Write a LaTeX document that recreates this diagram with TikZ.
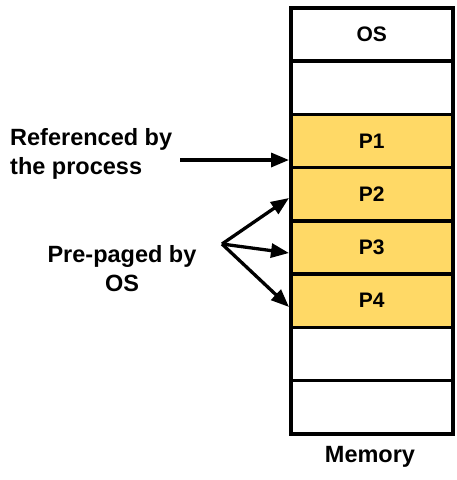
\documentclass[tikz,border=0pt]{standalone}
\usepackage{fontspec}
\setmainfont{Liberation Sans}
\usetikzlibrary{arrows.meta}
\definecolor{pagefill}{HTML}{FFD966}
\begin{document}
\begin{tikzpicture}[x=1pt,y=-1pt,
  cell/.style={draw=black,line width=3.5pt,minimum width=162pt,minimum height=53.25pt,inner sep=0pt,anchor=north west,font=\bfseries\fontsize{21}{24}\selectfont},
  page/.style={cell,fill=pagefill},
  lbl/.style={font=\bfseries\fontsize{23.5}{29}\selectfont,inner sep=0pt},
  arr/.style={line width=3.3pt,-{Triangle[length=18pt,width=14pt]}}]
\useasboundingbox (0,0) rectangle (456,480);
\node[cell] (c0) at (289,6) {OS};
\node[cell] (c1) at (289,59.25) {};
\node[page] (p1) at (289,112.5) {P1};
\node[page] (p2) at (289,165.75) {P2};
\node[page] (p3) at (289,219) {P3};
\node[page] (p4) at (289,272.25) {P4};
\node[cell] (c6) at (289,325.5) {};
\node[cell] (c7) at (289,378.75) {};
\node[lbl] (mem) at (370,457) {Memory};
\node[lbl,align=left,anchor=west] (ref) at (10,153.5) {Referenced by\\the process};
\node[lbl,align=center] (pre) at (122,268.5) {Pre-paged by\\OS};
\coordinate (rs) at (180,160);
\coordinate (re) at (289,160);
\coordinate (ps) at (222,244);
\coordinate (e2) at (289,198);
\coordinate (e3) at (289,253);
\coordinate (e4) at (289,307);
\draw[arr] (rs) -- (re);
\draw[arr] (ps) -- (e2);
\draw[arr] (ps) -- (e3);
\draw[arr] (ps) -- (e4);
\end{tikzpicture}
\end{document}
